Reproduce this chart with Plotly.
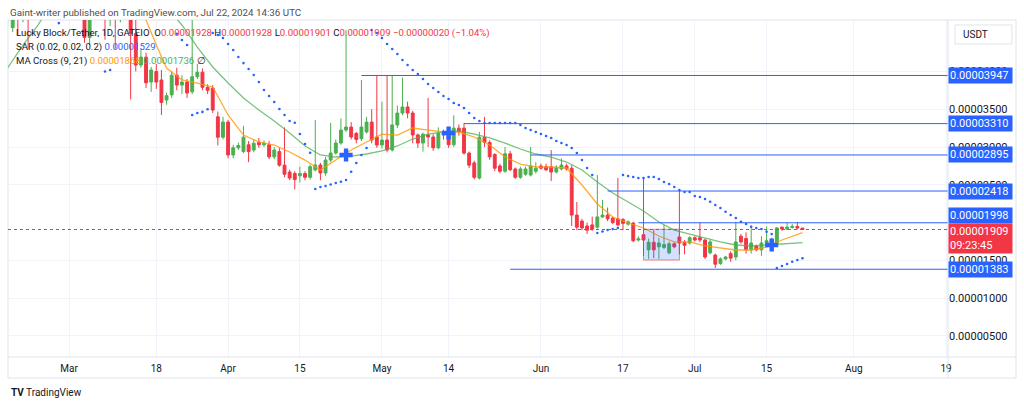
import pandas as pd
import plotly.graph_objects as go

U = 1e-8  # prices below are in units of 0.00000001 USDT

dates = pd.date_range("2024-02-18", "2024-07-22", freq="D")

# one row per month: Feb 18-29, Mar, Apr, May, Jun, Jul 1-22
opens = [
    4700, 4580, 4950, 4700, 5000, 4750, 5200, 5400, 5300, 5700, 6000, 5800,
    5500, 5700, 5400, 5200, 4450, 5000, 5400, 5100, 4700, 5000, 4750, 5100, 5300, 4500, 4085, 4190, 3860, 4000, 3887, 3622, 3690, 3950, 3820, 3860, 3730, 3930, 3990, 3790, 3780, 3400, 3130,
    3330, 2895, 2990, 2940, 3030, 2960, 3060, 3030, 3030, 2870, 2940, 2760, 2670, 2650, 2620, 2650, 2600, 2696, 2762, 2657, 2828, 2921, 3053, 3225, 3265, 3180, 3110, 3200, 3330, 3133,
    3027, 3093, 2961, 3292, 3450, 3530, 3450, 3160, 3053, 3160, 3133, 2990, 3200, 3200, 3030, 3250, 3250, 2920, 2790, 2590, 3130, 3060, 2900, 2750, 2680, 2910, 2710, 2600, 2640, 2630, 2680,
    2750, 2740, 2740, 2670, 2710, 2750, 2720, 2100, 2020, 1955, 1970, 1940, 2075, 2100, 2060, 2050, 2040, 1980, 1995, 1770, 1840, 1640, 1740, 1680, 1670, 1600, 1720, 1810, 1740, 1730,
    1800, 1800, 1770, 1600, 1570, 1460, 1520, 1590, 1545, 1820, 1790, 1640, 1690, 1640, 1730, 1745, 1730, 1940, 1915, 1935, 1950, 1928,
]
highs = [
    4950, 5100, 5050, 5100, 5100, 5300, 5600, 5700, 5800, 6200, 6500, 6000,
    5900, 5800, 5500, 5300, 5200, 5600, 5800, 5300, 5200, 5200, 5300, 5600, 5500, 4700, 4300, 4250, 4060, 4100, 4019, 3720, 4000, 4050, 3950, 3900, 4700, 4100, 4040, 3830, 3820, 3470, 3400,
    3360, 3030, 3060, 3280, 3080, 3100, 3120, 3090, 3080, 3000, 2990, 3260, 2700, 2680, 2740, 2680, 2770, 3358, 2790, 2870, 3320, 3100, 3380, 4548, 3330, 3200, 3887, 3400, 3500, 3950,
    3600, 3950, 3950, 3550, 3920, 3600, 3480, 3180, 3190, 3650, 3170, 3260, 3230, 3240, 3420, 3300, 3320, 2940, 2820, 3200, 3400, 3090, 2920, 2780, 3000, 2950, 2730, 2740, 2740, 3000, 2800,
    2780, 2780, 2960, 2760, 2850, 2780, 2760, 2273, 2050, 2000, 2080, 2630, 2300, 2200, 2080, 2590, 2060, 2030, 2010, 1820, 2580, 1790, 1900, 1800, 1968, 1750, 1740, 2432, 1770, 1820,
    1820, 2000, 1790, 1770, 1590, 1540, 1560, 1620, 2010, 1850, 1870, 1960, 1710, 1820, 1950, 1800, 1940, 1950, 2000, 1980, 2010, 1928,
]
lows = [
    4600, 4520, 4480, 4650, 4300, 4700, 5100, 5200, 5200, 5500, 5600, 5300,
    5300, 5200, 4900, 4380, 4350, 4900, 5000, 4420, 4600, 4300, 4650, 4900, 3630, 4000, 4050, 3780, 3730, 3770, 3424, 3560, 3650, 3750, 3700, 3650, 3700, 3900, 3750, 3700, 3450, 3020, 3100,
    2850, 2850, 2960, 2920, 2800, 2930, 2990, 3000, 2840, 2840, 2740, 2600, 2560, 2440, 2530, 2560, 2570, 2680, 2560, 2620, 2800, 2900, 3030, 3200, 3100, 3050, 3080, 3180, 3050, 2990,
    2980, 2930, 2940, 3250, 3420, 3380, 3050, 2990, 2940, 3000, 2950, 2970, 3100, 2990, 3000, 3150, 2900, 2720, 2570, 2570, 3000, 2830, 2680, 2650, 2660, 2680, 2580, 2580, 2620, 2610, 2650,
    2700, 2680, 2550, 2650, 2690, 2690, 1955, 1900, 1900, 1850, 1890, 1920, 2060, 2020, 1980, 1950, 1900, 1960, 1740, 1750, 1560, 1520, 1530, 1520, 1650, 1580, 1660, 1580, 1580, 1710,
    1750, 1740, 1520, 1580, 1400, 1440, 1500, 1480, 1500, 1720, 1590, 1590, 1620, 1560, 1720, 1730, 1720, 1890, 1900, 1920, 1910, 1901,
]
closes = [
    4800, 4950, 4700, 5000, 4750, 5200, 5400, 5300, 5700, 6000, 5800, 5500,
    5700, 5400, 5100, 4450, 5000, 5400, 5100, 4700, 5000, 4750, 5100, 5300, 4500, 4085, 4190, 3850, 4019, 3860, 3590, 3680, 3950, 3820, 3860, 3715, 3930, 3990, 3790, 3750, 3490, 3130, 3330,
    2895, 2990, 3020, 3130, 2940, 3050, 3030, 3050, 2870, 2960, 2760, 2640, 2590, 2570, 2650, 2600, 2740, 2762, 2657, 2828, 2921, 3053, 3225, 3265, 3133, 3100, 3265, 3330, 3093, 3027,
    3093, 2961, 3292, 3450, 3530, 3450, 3160, 3053, 3170, 3133, 2990, 3180, 3160, 3030, 3250, 3200, 2920, 2760, 2600, 3130, 3060, 2870, 2720, 2680, 2910, 2700, 2600, 2710, 2710, 2750, 2720,
    2720, 2700, 2670, 2730, 2762, 2710, 2100, 1940, 1930, 1900, 1915, 2075, 2100, 2050, 2000, 1970, 1990, 2010, 1760, 1785, 1770, 1740, 1640, 1730, 1710, 1720, 1680, 1730, 1700, 1800,
    1770, 1770, 1545, 1745, 1450, 1520, 1545, 1530, 1745, 1745, 1640, 1730, 1640, 1730, 1760, 1770, 1930, 1915, 1940, 1950, 1928, 1909,
]
# parabolic SAR dots (None = not visible)
sar = [
    None, None, None, None, None, None, None, None, None, None, 4640, None,
    None, None, None, None, None, None, None, 4000, 4019, None, None, None, None, None, None, None, None, None, None, None, None, 4500, 4416, 4350, 3424, 3450, 3465, 3500, 4508, 4482, 4442,
    4363, 4284, 4191, 4111, 4032, 3953, 3860, 3755, 3675, 3596, 3503, 3424, 3344, 3322, 3172, 3040, 2925, 2445, 2471, 2485, 2504, 2524, 2541, 2564, 2674, 2789, 2895, 2987, 4548, 4509,
    4442, 4363, 4297, 4231, 4151, 4085, 4019, 3966, 3900, 3834, 3781, 3728, 3675, 3635, 3583, 3556, 3516, 3450, 3384, 3344, 3318, 3318, 3318, 3318, 3318, 3318, 3318, 3291, 3252, 3225, 3199,
    3172, 3146, 3120, 3080, 3053, 3027, 2987, 2921, 2828, 2723, 2630, 1863, 1883, 1902, 1916, 1929, 2630, 2617, 2604, 2590, 2590, 2604, 2604, 2577, 2537, 2511, 2471, 2432, 2405, 2405,
    2352, 2339, 2312, 2277, 2233, 2193, 2144, 2101, 2061, 2012, 1982, 1946, 1929, 1916, 1880, 1850, 1400, 1426, 1453, 1483, 1506, 1529,
]
assert len(opens) == len(highs) == len(lows) == len(closes) == len(sar) == len(dates)

ma9_dates = ["2024-03-08", "2024-03-12", "2024-03-14", "2024-03-16", "2024-03-18", "2024-03-20", "2024-03-23",
             "2024-03-26", "2024-03-29", "2024-04-01", "2024-04-04", "2024-04-07", "2024-04-10", "2024-04-13",
             "2024-04-16", "2024-04-19", "2024-04-22", "2024-04-25", "2024-04-28", "2024-05-01", "2024-05-04",
             "2024-05-07", "2024-05-10", "2024-05-13", "2024-05-16", "2024-05-19", "2024-05-22", "2024-05-25",
             "2024-05-28", "2024-05-31", "2024-06-03", "2024-06-06", "2024-06-09", "2024-06-12", "2024-06-15",
             "2024-06-18", "2024-06-21", "2024-06-24", "2024-06-27", "2024-06-30", "2024-07-03", "2024-07-06",
             "2024-07-09", "2024-07-12", "2024-07-15", "2024-07-18", "2024-07-20", "2024-07-22"]
ma9 = [5200, 5100, 4813, 4681, 4350, 4046, 3887,
       3847, 3794, 3424, 3159, 3067, 3027, 2934,
       2828, 2696, 2828, 2961, 3067, 3172, 3159,
       3252, 3225, 3199, 3199, 3133, 3027, 2868,
       2775, 2736, 2736, 2723, 2498, 2246, 2074,
       1995, 1929, 1823, 1744, 1744, 1691, 1664,
       1638, 1638, 1677, 1770, 1823, 1868]

ma21_dates = ["2024-02-18", "2024-02-21", "2024-02-24", "2024-02-27", "2024-03-05", "2024-03-12", "2024-03-18",
              "2024-03-20", "2024-03-23", "2024-03-26", "2024-03-29", "2024-04-01", "2024-04-04", "2024-04-07",
              "2024-04-10", "2024-04-13", "2024-04-16", "2024-04-19", "2024-04-22", "2024-04-25", "2024-04-28",
              "2024-05-01", "2024-05-04", "2024-05-07", "2024-05-10", "2024-05-13", "2024-05-16", "2024-05-19",
              "2024-05-22", "2024-05-25", "2024-05-28", "2024-05-31", "2024-06-03", "2024-06-06", "2024-06-09",
              "2024-06-12", "2024-06-15", "2024-06-18", "2024-06-21", "2024-06-24", "2024-06-27", "2024-06-30",
              "2024-07-03", "2024-07-06", "2024-07-09", "2024-07-12", "2024-07-15", "2024-07-18", "2024-07-22"]
ma21 = [4046, 4350, 4620, 4950, 5400, 5350, 5000,
        4850, 4615, 4323, 4059, 3847, 3648, 3490,
        3345, 3186, 3014, 2895, 2868, 2881, 2908,
        2948, 3014, 3106, 3172, 3199, 3212, 3172,
        3120, 3053, 2974, 2908, 2868, 2802, 2696,
        2537, 2392, 2273, 2154, 2008, 1902, 1849,
        1797, 1744, 1704, 1691, 1704, 1717, 1736]

cross_dates = ["2024-04-24", "2024-05-14", "2024-07-16"]
cross_vals = [2895, 3186, 1704]

levels = [3947, 3310, 2895, 2418, 1998, 1383]
level_starts = ["2024-04-27", "2024-05-17", "2024-05-30", "2024-06-14", "2024-06-20", "2024-05-26"]

box_dates = ["2024-06-21", "2024-06-28"]
box_prices = [1505, 1912]

last_price = 1909
tick_prices = [500, 1000, 1500, 2500, 3000, 3500, 4000]
x_tickvals = ["2024-03-01", "2024-03-18", "2024-04-01", "2024-04-15", "2024-05-01", "2024-05-14",
              "2024-06-01", "2024-06-17", "2024-07-01", "2024-07-15", "2024-08-01", "2024-08-19"]
x_ticktext = ["Mar", "18", "Apr", "15", "May", "14", "Jun", "17", "Jul", "15", "Aug", "19"]

GREEN = "#4CAF50"
RED = "#F23645"
BLUE = "#2962FF"
FONT = "Roboto, Liberation Sans, sans-serif"

# plot area in pixels
L, R, T, B = 8, 948, 20, 357


def ax(px):
    return (px - L) / (R - L)


def ay(py):
    return (B - py) / (B - T)


fig = go.Figure()

fig.add_trace(go.Scatter(x=ma21_dates, y=[v * U for v in ma21], mode="lines",
                         line=dict(color="rgba(76,175,80,0.75)", width=1.3), hoverinfo="skip"))
fig.add_trace(go.Scatter(x=ma9_dates, y=[v * U for v in ma9], mode="lines",
                         line=dict(color="rgba(255,152,0,0.8)", width=1.3), hoverinfo="skip"))

fig.add_trace(go.Candlestick(
    x=dates,
    open=[v * U for v in opens], high=[v * U for v in highs],
    low=[v * U for v in lows], close=[v * U for v in closes],
    increasing=dict(line=dict(color=GREEN, width=1), fillcolor=GREEN),
    decreasing=dict(line=dict(color=RED, width=1), fillcolor=RED),
    whiskerwidth=0, hoverinfo="skip",
))

fig.add_trace(go.Scatter(x=dates, y=[None if v is None else v * U for v in sar], mode="markers",
                         marker=dict(color=BLUE, size=2.6), hoverinfo="skip"))
fig.add_trace(go.Scatter(x=cross_dates, y=[v * U for v in cross_vals], mode="markers",
                         marker=dict(symbol="cross", color=BLUE, size=11, line=dict(width=0)),
                         hoverinfo="skip"))

# user drawn horizontal levels
for lv, start in zip(levels, level_starts):
    fig.add_shape(type="line", xref="x", yref="y", x0=start, x1="2024-09-01",
                  y0=lv * U, y1=lv * U, line=dict(color=BLUE, width=1))

fig.add_shape(type="rect", xref="x", yref="y", x0=box_dates[0], x1=box_dates[1],
              y0=box_prices[0] * U, y1=box_prices[1] * U,
              fillcolor="rgba(41,98,255,0.2)", line=dict(color="rgba(242,54,69,0.6)", width=1))

fig.add_shape(type="line", xref="paper", yref="y", x0=0, x1=1, y0=last_price * U, y1=last_price * U,
              line=dict(color=RED, width=1, dash="dot"))

# pane frame and separators
fig.add_shape(type="rect", xref="paper", yref="paper", x0=ax(8), x1=ax(1016), y0=ay(378), y1=ay(20),
              line=dict(color="#e0e3eb", width=1), layer="below")
fig.add_shape(type="line", xref="paper", yref="paper", x0=1, x1=1, y0=ay(378), y1=ay(20),
              line=dict(color="#e0e3eb", width=1))
fig.add_shape(type="line", xref="paper", yref="paper", x0=0, x1=ax(1016), y0=0, y1=0,
              line=dict(color="#e0e3eb", width=1))
fig.add_shape(type="rect", xref="paper", yref="paper", x0=ax(955), x1=ax(1012), y0=ay(44), y1=ay(25),
              line=dict(color="#e0e3eb", width=1), fillcolor="white")

ann = []
ann.append(dict(x=ax(8), y=ay(12), xref="paper", yref="paper", xanchor="left", yanchor="middle",
                text="Gaint-writer published on TradingView.com, Jul 22, 2024 14:36 UTC",
                showarrow=False, font=dict(size=9.8, color="#505050", family=FONT)))
ann.append(dict(x=ax(961), y=ay(35), xref="paper", yref="paper", xanchor="left", yanchor="middle",
                text="USDT", showarrow=False, font=dict(size=10, color="#131722", family=FONT)))

gray = "#131722"
leg1 = ("Lucky Block/Tether, 1D, GATEIO  O<span style='color:%s'>0.00001928</span> "
        "H<span style='color:%s'>0.00001928</span> L<span style='color:%s'>0.00001901</span> "
        "C<span style='color:%s'>0.00001909</span> <span style='color:%s'>−0.00000020 (−1.04%%)</span>"
        % (RED, RED, RED, RED, RED))
leg2 = "SAR (0.02, 0.02, 0.2) <span style='color:%s'>0.00001529</span>" % BLUE
leg3 = ("MA Cross (9, 21) <span style='color:#FF9800'>0.00001868</span> "
        "<span style='color:#4CAF50'>0.00001736</span> ∅")
for txt, py in [(leg1, 33), (leg2, 47), (leg3, 61)]:
    ann.append(dict(x=ax(14), y=ay(py), xref="paper", yref="paper", xanchor="left", yanchor="middle",
                    text=txt, showarrow=False, font=dict(size=9.6, color=gray, family=FONT)))

# price tags on the scale
for lv in levels:
    shift = 7 if lv == 1998 else 0
    ann.append(dict(x=1, y=lv * U, xref="paper", yref="y", xanchor="left", yanchor="middle",
                    yshift=shift, text="0.%08d" % lv, showarrow=False, bgcolor=BLUE, width=61,
                    align="left", borderpad=1, font=dict(size=11, color="white", family=FONT)))
ann.append(dict(x=1, y=last_price * U, xref="paper", yref="y", xanchor="left", yanchor="top",
                yshift=7, text="0.%08d<br>09:23:45" % last_price, showarrow=False, bgcolor=RED,
                width=61, align="left", borderpad=1, font=dict(size=11, color="white", family=FONT)))

ann.append(dict(x=ax(9), y=ay(392), xref="paper", yref="paper", xanchor="left", yanchor="middle",
                text="<b>TV</b> TradingView", showarrow=False,
                font=dict(size=10, color="#131722", family=FONT)))

fig.update_layout(
    width=1024, height=406,
    margin=dict(l=L, r=1024 - R, t=T, b=406 - B),
    paper_bgcolor="white", plot_bgcolor="white",
    showlegend=False, boxgap=0.2,
    annotations=ann,
    xaxis=dict(type="date", range=["2024-02-18 02:00", "2024-08-19 09:00"],
               tickvals=x_tickvals, ticktext=x_ticktext, showgrid=True, gridcolor="#f0f3fa",
               rangeslider=dict(visible=False), zeroline=False, showline=False, ticks="",
               ticklabelstandoff=4,
               tickfont=dict(size=10, color="#131722", family=FONT)),
    yaxis=dict(side="right", range=[222 * U, 4681 * U], tickvals=[v * U for v in tick_prices],
               tickformat=".8f", showgrid=True, gridcolor="#f0f3fa", zeroline=False, showline=False,
               ticks="", tickfont=dict(size=11, color="#131722", family=FONT)),
)

# the page's default body margin would push the figure 8px right and down
fig.write_html("out.html", config={"displayModeBar": False},
               post_script="document.body.style.margin = '0px';")
